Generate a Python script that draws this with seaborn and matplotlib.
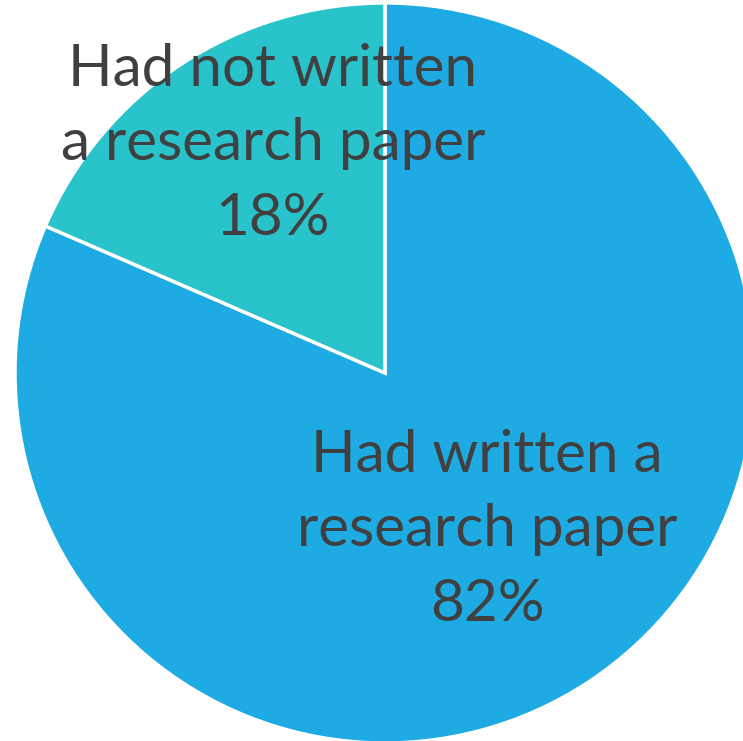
import matplotlib
matplotlib.use('Agg')
import matplotlib.pyplot as plt
import seaborn as sns

labels = ['Had written a\nresearch paper\n82%', 'Had not written\na research paper\n18%']
# wedge sizes (labels show rounded values)
shares = [81.5, 18.5]
colors = ['#1EAAE2', '#28C3CB']

sns.set_style('white')
plt.rcParams['font.family'] = ['Lato', 'DejaVu Sans']

fig = plt.figure(figsize=(7.43, 7.41), dpi=100)
ax = fig.add_axes([0, 0, 1, 1])

ax.pie(shares, colors=colors, startangle=90, counterclock=False,
       wedgeprops=dict(edgecolor='white', linewidth=2.5))

# label positions (data units, pie radius 1)
ax.text(0.276, -0.424, labels[0], ha='center', va='center', fontsize=42,
        color='#404040', linespacing=1.5)
ax.text(-0.303, 0.62, labels[1], ha='center', va='center', fontsize=42,
        color='#404040', linespacing=1.5)

ax.set_xlim(-1.0405, 0.9676)
ax.set_ylim(-0.9946, 1.008)
ax.set_aspect('auto')
ax.axis('off')

fig.savefig('out.png', dpi=100)
